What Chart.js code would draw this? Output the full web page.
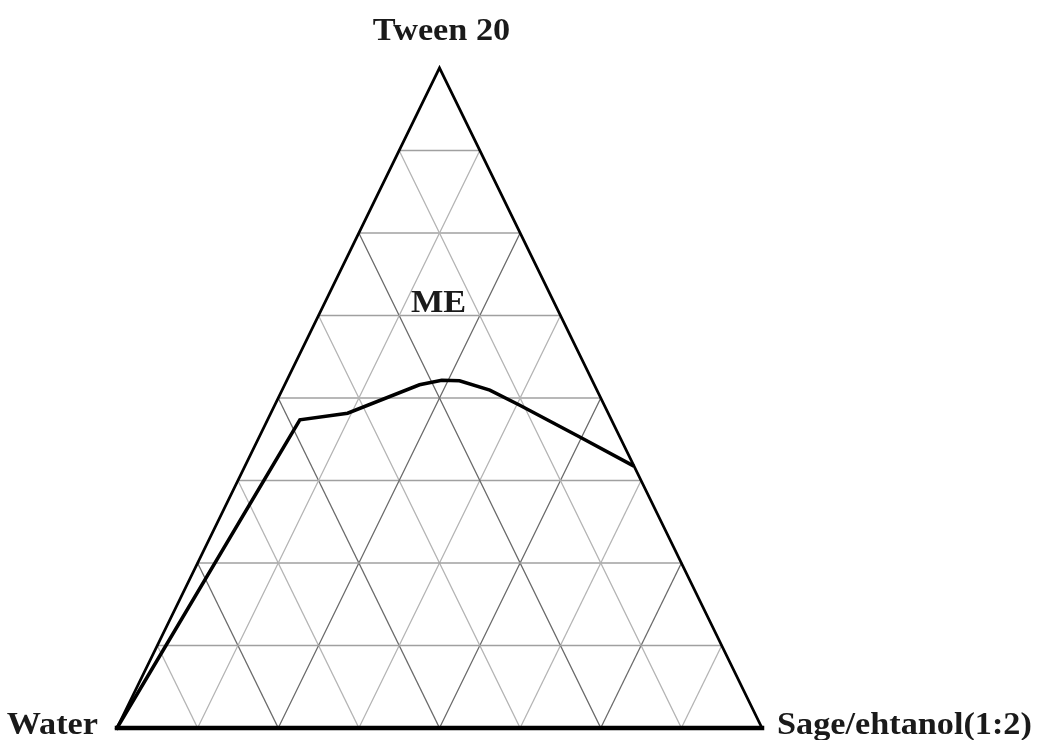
<!DOCTYPE html>
<html>
<head>
<meta charset="utf-8">
<script src="https://cdn.jsdelivr.net/npm/chart.js@4/dist/chart.umd.min.js"></script>
<style>
  html, body { margin: 0; padding: 0; background: #fff; }
  #wrap { width: 1040px; height: 740px; }
</style>
</head>
<body>
<div id="wrap"><canvas id="phase" width="1040" height="740"></canvas></div>
<script>
// components at the corners
const cornerLabels = ["Water", "Sage/ehtanol(1:2)", "Tween 20"];
const regionLabel = "ME";

// grid spacing: 8 divisions along each side
const divisions = 8;

// phase boundary, mass fractions of Tween 20 and Sage/ethanol
const boundaryTween = [0, 0.467, 0.477, 0.520, 0.527, 0.526, 0.512, 0.489, 0.441, 0.398];
const boundarySage  = [0, 0.050, 0.119, 0.209, 0.240, 0.268, 0.322, 0.380, 0.497, 0.600];

// ternary (sage, tween) -> plot coordinates
const toXY = (s, t) => ({ x: s + t / 2, y: t });

function lineSet(points, color, width, order) {
    return {
        data: points, showLine: true, borderColor: color, borderWidth: width,
        pointRadius: 0, tension: 0, clip: false, order: order,
        borderJoinStyle: "miter", borderCapStyle: "square"
    };
}

const datasets = [];

// boundary curve on top
datasets.push(lineSet(boundarySage.map((s, i) => toXY(s, boundaryTween[i])), "#000", 3.5, 0));

// triangle edges
datasets.push(lineSet([toXY(0, 0), toXY(1, 0)], "#000", 4.5, 1));
datasets.push(lineSet([toXY(0, 0), toXY(0, 1), toXY(1, 0)], "#000", 2.8, 1));

// grid lines, every other one a bit darker on the slanted sets
for (let k = 1; k < divisions; k++) {
    const f = k / divisions;
    const slant = k % 2 === 0 ? "#6a6a6a" : "#b4b4b4";
    datasets.push(lineSet([toXY(0, f), toXY(1 - f, f)], "#a0a0a0", 1.6, 2));
    datasets.push(lineSet([toXY(f, 0), toXY(f, 1 - f)], slant, 1.3, 2));
    datasets.push(lineSet([toXY(1 - f, 0), toXY(0, 1 - f)], slant, 1.3, 2));
}

// wide bold serif text, stretched a little horizontally
function wideText(ctx, text, x, y, align) {
    const stretch = 1.07;
    const w = ctx.measureText(text).width * stretch;
    let left = x;
    if (align === "right") left = x - w;
    else if (align === "center") left = x - w / 2;
    ctx.save();
    ctx.translate(left, y);
    ctx.scale(stretch, 1);
    ctx.textAlign = "left";
    ctx.fillText(text, 0, 0);
    ctx.restore();
}

const labelPlugin = {
    id: "ternaryLabels",
    afterDraw(chart) {
        const { ctx, scales: { x, y } } = chart;
        const base = y.getPixelForValue(0);
        ctx.save();
        ctx.fillStyle = "#1a1a1a";
        ctx.font = "bold 32px 'Liberation Serif', serif";
        ctx.textBaseline = "alphabetic";
        wideText(ctx, cornerLabels[0], x.getPixelForValue(0) - 19, base + 6, "right");
        wideText(ctx, cornerLabels[1], x.getPixelForValue(1) + 15, base + 6, "left");
        wideText(ctx, cornerLabels[2], x.getPixelForValue(0.5) + 2, 40, "center");
        wideText(ctx, regionLabel, x.getPixelForValue(0.5) - 1, y.getPixelForValue(0.63), "center");
        ctx.restore();
    }
};

new Chart(document.getElementById("phase"), {
    type: "scatter",
    data: { datasets },
    options: {
        responsive: false, animation: false,
        layout: { padding: { left: 117, right: 278, top: 68, bottom: 12 } },
        plugins: { legend: { display: false }, tooltip: { enabled: false } },
        scales: {
            x: { type: "linear", min: 0, max: 1, display: false },
            y: { type: "linear", min: 0, max: 1, display: false }
        }
    },
    plugins: [labelPlugin]
});
</script>
</body>
</html>
